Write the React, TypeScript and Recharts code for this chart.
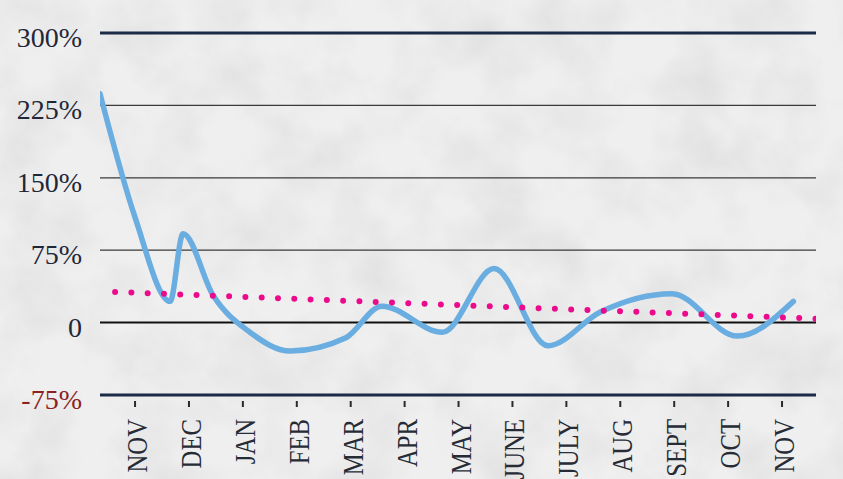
import React from 'react';
import { LineChart, Line, XAxis, YAxis, ReferenceLine } from 'recharts';

const months = ['NOV', 'DEC', 'JAN', 'FEB', 'MAR', 'APR', 'MAY', 'JUNE', 'JULY', 'AUG', 'SEPT', 'OCT', 'NOV'];
const monthTicks = months.map((_, i) => i);

// where each point sits along the month axis (0 = first NOV) and the % change
const changeAt = [-0.65, 0, 0.65, 0.89, 1.45, 2.13, 2.88, 3.9, 4.58, 5.7, 6.66, 7.66, 8.63, 9.96, 11.17, 12.21];
const changeValues = [237, 109, 22, 92, 28, -10, -29.5, -16, 17, -10, 56, -24, 11, 30, -14, 22];

// dotted trend line
const trendAt = [-0.37, 12.78];
const trendValues = [31.7, 3.7];

const yTicks = [-75, 0, 75, 150, 225, 300];

const curveData = changeAt.map((t, i) => ({ t, v: changeValues[i] }));
const trendData = trendAt.map((t, i) => ({ t, v: trendValues[i] }));

const gridStyle = (v: number) => {
  if (v === 300 || v === -75) return { stroke: '#1b2b47', strokeWidth: 3 };
  if (v === 0) return { stroke: '#111111', strokeWidth: 2 };
  return { stroke: '#3a3a3a', strokeWidth: 1.3 };
};

const PctTick = ({ x, y, payload }: any) => {
  const v = payload.value;
  return (
    <text
      x={x}
      y={y}
      dy={14}
      textAnchor="end"
      fontFamily="'Liberation Serif', serif"
      fontSize={28}
      fill={v < 0 ? '#8c2222' : '#1f2838'}
    >
      {v === 0 ? '0' : `${v}%`}
    </text>
  );
};

const MonthTick = ({ x, y, payload }: any) => {
  const tx = x + 12;
  const ty = y + 24;
  return (
    <g>
      <line x1={x} x2={x} y1={y + 6} y2={y + 12} stroke="#2a2a2a" strokeWidth={2} />
      <text
        x={0}
        y={0}
        transform={`translate(${tx} ${ty}) rotate(-90) scale(0.95 1.12)`}
        textAnchor="end"
        fontFamily="'Liberation Serif', serif"
        fontSize={26}
        fill="#262b35"
      >
        {months[payload.value]}
      </text>
    </g>
  );
};

const Paper = () => (
  <svg width={843} height={479} style={{ position: 'absolute', left: 0, top: 0 }}>
    <defs>
      <filter id="grain" x="0" y="0" width="100%" height="100%">
        <feTurbulence type="fractalNoise" baseFrequency="0.015" numOctaves={4} seed={7} />
        <feColorMatrix
          type="matrix"
          values="0 0 0 0 0.45  0 0 0 0 0.45  0 0 0 0 0.45  1.3 0 0 0 -0.5"
        />
      </filter>
    </defs>
    <rect width={843} height={479} fill="#efefef" />
    <rect width={843} height={479} filter="url(#grain)" opacity={0.35} />
  </svg>
);

export default function App() {
  return (
    <div style={{ position: 'absolute', left: 0, top: 0, width: 843, height: 479 }}>
      <Paper />
      <div style={{ position: 'absolute', left: 0, top: 0 }}>
        <LineChart width={843} height={479} margin={{ top: 33, right: 27, left: 0, bottom: 0 }}>
          <XAxis
            type="number"
            dataKey="t"
            domain={[-0.65, 12.63]}
            allowDataOverflow
            ticks={monthTicks}
            interval={0}
            tickSize={0}
            tickMargin={0}
            axisLine={false}
            tickLine={false}
            height={84}
            tick={<MonthTick />}
          />
          <YAxis
            type="number"
            domain={[-75, 300]}
            ticks={yTicks}
            interval={0}
            width={100}
            tickSize={0}
            tickMargin={18}
            axisLine={false}
            tickLine={false}
            tick={<PctTick />}
          />
          {yTicks.map((v) => (
            <ReferenceLine key={v} y={v} {...gridStyle(v)} />
          ))}
          <Line
            data={curveData}
            dataKey="v"
            type="monotone"
            stroke="#6aade0"
            strokeWidth={5.5}
            strokeLinecap="round"
            dot={false}
            activeDot={false}
            isAnimationActive={false}
          />
          <Line
            data={trendData}
            dataKey="v"
            type="linear"
            stroke="#ec0a8c"
            strokeWidth={6}
            strokeDasharray="0 16.3"
            strokeLinecap="round"
            dot={false}
            activeDot={false}
            isAnimationActive={false}
          />
        </LineChart>
      </div>
    </div>
  );
}
